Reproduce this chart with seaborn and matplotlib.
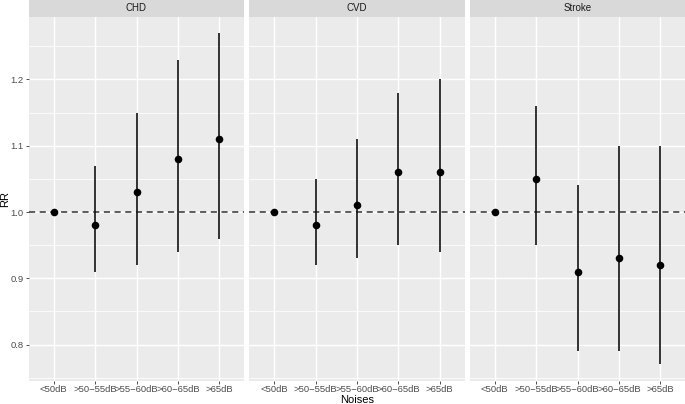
import matplotlib
matplotlib.use("Agg")
import matplotlib.pyplot as plt
import seaborn as sns
import pandas as pd
import numpy as np

panels = ["CHD", "CVD", "Stroke"]
noises = ["<50dB", ">50\u221255dB", ">55\u221260dB", ">60\u221265dB", ">65dB"]
chd_rr = [1.00, 0.98, 1.03, 1.08, 1.11]
chd_lo = [1.00, 0.91, 0.92, 0.94, 0.96]
chd_hi = [1.00, 1.07, 1.15, 1.23, 1.27]
cvd_rr = [1.00, 0.98, 1.01, 1.06, 1.06]
cvd_lo = [1.00, 0.92, 0.93, 0.95, 0.94]
cvd_hi = [1.00, 1.05, 1.11, 1.18, 1.20]
stroke_rr = [1.00, 1.05, 0.91, 0.93, 0.92]
stroke_lo = [1.00, 0.95, 0.79, 0.79, 0.77]
stroke_hi = [1.00, 1.16, 1.04, 1.10, 1.10]

rows = []
for name, rr, lo, hi in [("CHD", chd_rr, chd_lo, chd_hi),
                         ("CVD", cvd_rr, cvd_lo, cvd_hi),
                         ("Stroke", stroke_rr, stroke_lo, stroke_hi)]:
    for n, r, l, h in zip(noises, rr, lo, hi):
        rows.append(dict(outcome=name, noise=n, rr=r, lo=l, hi=h))
df = pd.DataFrame(rows)

sns.set_theme(style="darkgrid")
plt.rcParams['font.family'] = ['Liberation Sans', 'DejaVu Sans']

W, H = 685, 404
fig = plt.figure(figsize=(W / 100, H / 100), dpi=100)
fig.patch.set_facecolor("white")

left0 = 29
pw = 215
gap = 5.5
ptop = 16.5
pbot = 381
ylim = (0.745, 1.295)
xs = np.arange(len(noises))

for i, name in enumerate(panels):
    x0 = left0 + i * (pw + gap)
    ax = fig.add_axes([x0 / W, (H - pbot) / H, pw / W, (pbot - ptop) / H])
    sax = fig.add_axes([x0 / W, (H - ptop) / H, pw / W, ptop / H])
    sax.set_facecolor("#D9D9D9")
    sax.set_xticks([]); sax.set_yticks([])
    for s in sax.spines.values():
        s.set_visible(False)
    sax.text(0.5, 0.5, name, ha="center", va="center", fontsize=7, color="#1A1A1A",
             transform=sax.transAxes)

    sub = df[df.outcome == name].reset_index(drop=True)
    ax.set_facecolor("#EBEBEB")
    ax.set_xlim(-0.6, len(noises) - 0.4)
    ax.set_ylim(*ylim)
    ax.set_xticks(xs)
    ax.set_xticklabels(noises)
    ax.set_yticks([0.8, 0.9, 1.0, 1.1, 1.2])
    ax.set_yticks([0.75, 0.85, 0.95, 1.05, 1.15, 1.25], minor=True)
    ax.grid(which="major", color="white", linewidth=1.05)
    ax.grid(which="minor", color="white", linewidth=0.55)
    ax.set_axisbelow(True)
    for s in ax.spines.values():
        s.set_visible(False)
    ax.tick_params(axis="both", which="major", length=2.2, width=0.6, color="#333333",
                   labelsize=6.8, labelcolor="#4D4D4D", pad=1.5, bottom=True, left=True)
    ax.tick_params(axis="x", which="major", pad=0.6)
    ax.tick_params(axis="both", which="minor", length=0)

    ax.axhline(1.0, color="#333333", linestyle=(0, (4, 3)), linewidth=1.1, zorder=2)
    ax.vlines(xs, sub["lo"], sub["hi"], color="#111111", linewidth=1.2, zorder=3)
    sns.scatterplot(x=xs, y=sub["rr"], ax=ax, color="black", s=30, edgecolor="black",
                    linewidth=0, zorder=4)
    ax.set_xlabel("")
    ax.set_ylabel("")
    if i != 0:
        ax.set_yticklabels([])
        ax.tick_params(axis="y", which="major", length=0)

fig.text(5.5 / W, 1 - ((ptop + pbot) / 2) / H, "RR", rotation=90, ha="center", va="center",
         fontsize=8, color="black")
mid = left0 + 1.5 * pw + gap
fig.text(mid / W, 4.2 / H, "Noises", ha="center", va="center", fontsize=8, color="black")

fig.savefig("out.png", dpi=100, facecolor="white")
